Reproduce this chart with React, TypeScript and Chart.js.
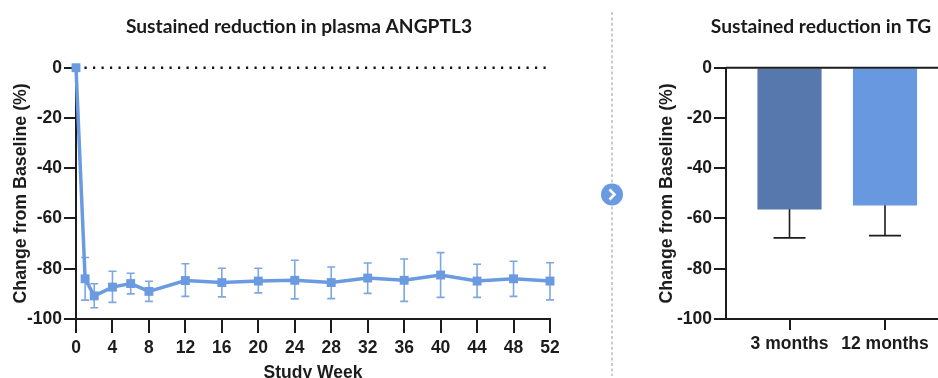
import React, { useEffect, useRef } from "react";
import { Chart, registerables } from "chart.js";

Chart.register(...registerables);

const weeks = [0, 1, 2, 4, 6, 8, 12, 16, 20, 24, 28, 32, 36, 40, 44, 48, 52];
const angptl3 = [0, -84, -90.8, -87.3, -85.9, -89, -84.7, -85.5, -84.9, -84.6, -85.5, -83.7, -84.6, -82.5, -84.9, -84, -84.9];
const angptl3Upper = [0, -75.5, -86, -81, -81.8, -85, -78, -79.8, -79.8, -76.6, -79.3, -77.7, -76.1, -73.6, -78.2, -77, -77.6];
const angptl3Lower = [0, -92.5, -95.5, -93.4, -90, -93, -91, -91.2, -89.6, -92, -91.9, -89.8, -93, -91.4, -91.4, -91, -92.4];
const referenceWeeks = [0, 52];
const referenceValues = [0, 0];
const periods = ["3 months", "12 months"];
const tgValues = [-56.3, -54.7];
const tgLower = [-67.7, -66.8];
const barColors = ["#5778AD", "#6899E0"];
const yTicks = [0, -20, -40, -60, -80, -100];

const INK = "#1c1c1c";
const BLUE = "#6A9BE0";
const tickFont = { family: "'Liberation Sans'", size: 17.5, weight: "bold" as const };
const axisTitleFont = { family: "'Liberation Sans'", size: 17.8, weight: "bold" as const };
const titleFont = { family: "Lato", size: 19.2, weight: "bold" as const };

function pinnedY(width: number, titleOffset: number) {
  return {
    min: -100,
    max: 0,
    afterBuildTicks: (s: any) => { s.ticks = yTicks.map((value) => ({ value })); },
    afterFit: (s: any) => { s.width = width; },
    border: { color: INK, width: 2 },
    grid: { drawOnChartArea: false, color: INK, lineWidth: 2, tickLength: 12 },
    ticks: { color: INK, font: tickFont, padding: 2, autoSkip: false },
    title: {
      display: true,
      text: "Change from Baseline (%)",
      color: INK,
      font: axisTitleFont,
      padding: { top: titleOffset, bottom: 0 },
    },
  };
}

function centerTitle(center: number) {
  return {
    id: "centerTitle",
    beforeDraw(chart: any) {
      const t = chart.titleBlock;
      const w = t.right - t.left;
      t.left = center - w / 2;
      t.right = center + w / 2;
    },
  };
}

const lineErrors = {
  id: "lineErrors",
  beforeDatasetsDraw(chart: any) {
    const { ctx, scales } = chart;
    ctx.save();
    ctx.strokeStyle = "#7DA7E2";
    ctx.lineWidth = 1.6;
    weeks.forEach((w, i) => {
      if (i === 0) return;
      const x = scales.x.getPixelForValue(w);
      const up = scales.y.getPixelForValue(angptl3Upper[i]);
      const lo = scales.y.getPixelForValue(angptl3Lower[i]);
      ctx.beginPath();
      ctx.moveTo(x, up);
      ctx.lineTo(x, lo);
      ctx.moveTo(x - 4, up);
      ctx.lineTo(x + 4, up);
      ctx.moveTo(x - 4, lo);
      ctx.lineTo(x + 4, lo);
      ctx.stroke();
    });
    ctx.restore();
  },
};

const barErrors = {
  id: "barErrors",
  afterDatasetsDraw(chart: any) {
    const { ctx, scales, chartArea } = chart;
    ctx.save();
    ctx.strokeStyle = INK;
    ctx.lineWidth = 1.6;
    periods.forEach((_, i) => {
      const x = scales.x.getPixelForValue(i + 1);
      const top = scales.y.getPixelForValue(tgValues[i]);
      const lo = scales.y.getPixelForValue(tgLower[i]);
      ctx.beginPath();
      ctx.moveTo(x, top);
      ctx.lineTo(x, lo);
      ctx.moveTo(x - 16, lo);
      ctx.lineTo(x + 16, lo);
      ctx.stroke();
    });
    const zero = scales.y.getPixelForValue(0);
    ctx.lineWidth = 2;
    ctx.beginPath();
    ctx.moveTo(chartArea.left, zero);
    ctx.lineTo(chartArea.right, zero);
    ctx.stroke();
    ctx.restore();
  },
};

export default function App() {
  const leftRef = useRef<HTMLCanvasElement>(null);
  const rightRef = useRef<HTMLCanvasElement>(null);

  useEffect(() => {
    const left = new Chart(leftRef.current!, {
      type: "line",
      plugins: [lineErrors, centerTitle(299)],
      data: {
        datasets: [
          {
            label: "ANGPTL3",
            data: weeks.map((x, i) => ({ x, y: angptl3[i] })),
            borderColor: BLUE,
            backgroundColor: BLUE,
            borderWidth: 3.5,
            pointStyle: "rect",
            pointRadius: 6.3,
            pointHoverRadius: 6.3,
            pointBorderWidth: 0,
            tension: 0,
            clip: false,
            order: 1,
          },
          {
            label: "Baseline",
            data: referenceWeeks.map((x, i) => ({ x, y: referenceValues[i] })),
            borderColor: "#111111",
            borderWidth: 2.4,
            borderDash: [2.2, 6.3],
            pointRadius: 0,
            clip: false,
            order: 2,
          },
        ],
      },
      options: {
        animation: false,
        responsive: false,
        layout: { padding: { top: 0, right: 40, bottom: 0, left: 0 } },
        plugins: {
          legend: { display: false },
          tooltip: { enabled: false },
          title: {
            display: true,
            text: "Sustained reduction in plasma ANGPTL3",
            color: "#1a1a1a",
            font: titleFont,
            padding: { top: 15, bottom: 29.7 },
          },
        },
        scales: {
          x: {
            type: "linear",
            min: 0,
            max: 52,
            afterFit: (s: any) => { s.height = 71; },
            border: { color: INK, width: 2 },
            grid: { drawOnChartArea: false, color: INK, lineWidth: 2, tickLength: 14 },
            ticks: { stepSize: 4, color: INK, font: tickFont, padding: 5, maxRotation: 0, autoSkip: false },
            title: {
              display: true,
              text: "Study Week",
              color: INK,
              font: tickFont,
              padding: { top: 0, bottom: 6 },
            },
          },
          y: pinnedY(76, 10),
        },
      } as any,
    });

    const right = new Chart(rightRef.current!, {
      type: "bar",
      plugins: [barErrors, centerTitle(171)],
      data: {
        datasets: [
          {
            label: "TG",
            data: periods.map((_, i) => ({ x: i + 1, y: tgValues[i] })),
            backgroundColor: barColors,
            borderWidth: 0,
            barThickness: 63.5,
          },
        ],
      },
      options: {
        animation: false,
        responsive: false,
        layout: { padding: 0 },
        plugins: {
          legend: { display: false },
          tooltip: { enabled: false },
          title: {
            display: true,
            text: "Sustained reduction in TG",
            color: "#1a1a1a",
            font: titleFont,
            padding: { top: 15, bottom: 29.7 },
          },
        },
        scales: {
          x: {
            type: "linear",
            min: 0.335,
            max: 2.555,
            offset: false,
            afterBuildTicks: (s: any) => { s.ticks = periods.map((_, i) => ({ value: i + 1 })); },
            afterFit: (s: any) => { s.height = 59; },
            border: { color: INK, width: 2 },
            grid: { offset: false, drawOnChartArea: false, color: INK, lineWidth: 2, tickLength: 11 },
            ticks: {
              color: INK,
              font: tickFont,
              padding: 4,
              maxRotation: 0,
              autoSkip: false,
              callback: (v: number) => periods[v - 1] ?? "",
            },
          },
          y: pinnedY(76, 6),
        },
      } as any,
    });

    return () => {
      left.destroy();
      right.destroy();
    };
  }, []);

  return (
    <div style={{ position: "absolute", left: 0, top: 0, width: 938, height: 378, overflow: "hidden", background: "#fff" }}>
      <canvas ref={leftRef} width={590} height={390} style={{ position: "absolute", left: 0, top: 0, width: 590, height: 390 }} />
      <canvas ref={rightRef} width={288} height={378} style={{ position: "absolute", left: 650, top: 0, width: 288, height: 378 }} />
      <svg width={30} height={378} style={{ position: "absolute", left: 597, top: 0 }}>
        <line x1={15} y1={12} x2={15} y2={376} stroke="#ababab" strokeWidth={1.2} strokeDasharray="3 2.4" />
        <circle cx={15} cy={194.5} r={11} fill={BLUE} />
        <path d="M12.5 189.5 L17.5 194.5 L12.5 199.5" fill="none" stroke="#fff" strokeWidth={2.6} />
      </svg>
    </div>
  );
}
